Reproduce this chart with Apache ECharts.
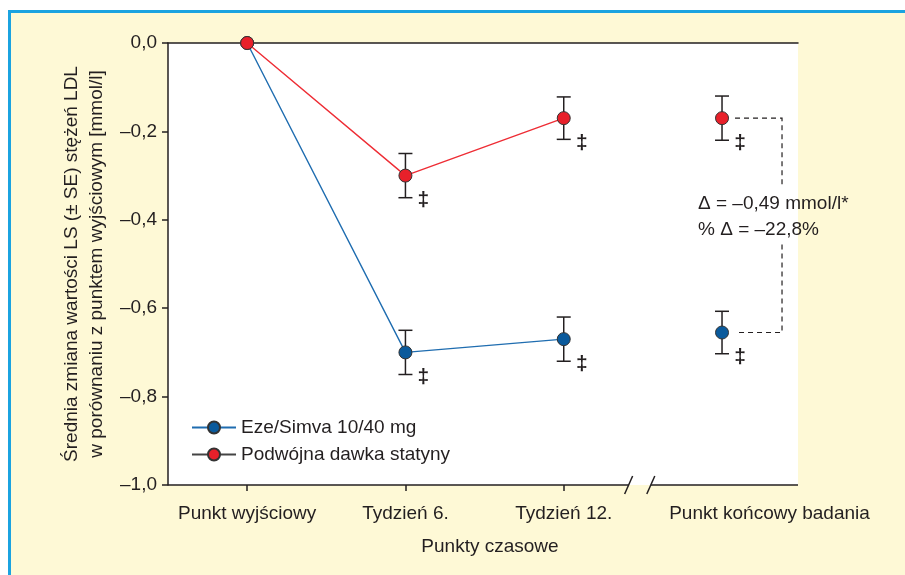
<!DOCTYPE html>
<html>
<head>
<meta charset="utf-8">
<script src="https://cdn.jsdelivr.net/npm/echarts@6/dist/echarts.min.js"></script>
<style>
  html, body { margin: 0; padding: 0; background: #fff; }
  #frame { position: absolute; left: 8px; top: 10px; width: 897px; height: 565px;
    background: #fef9d6; border-top: 3px solid #1ba3e0; border-left: 3px solid #1ba3e0; box-sizing: border-box; }
  #chart { position: absolute; left: 0; top: 0; width: 905px; height: 575px; }
</style>
</head>
<body>
<div id="frame"></div>
<div id="chart"></div>
<script>
const categories = ['Punkt wyjściowy', 'Tydzień 6.', 'Tydzień 12.', 'Punkt końcowy badania'];
const timePos = [1, 2, 3, 4];
const labelPos = [1, 2, 3, 4.3];
const ezeMean = [0, -0.70, -0.67, -0.655];
const ezeSE = [0, 0.05, 0.05, 0.048];
const statMean = [0, -0.30, -0.17, -0.17];
const statSE = [0, 0.05, 0.048, 0.05];
const yTicks = [0, -0.2, -0.4, -0.6, -0.8, -1.0];
const breakAt = [3.41, 3.55];
const deltaText = ['Δ = –0,49 mmol/l*', '% Δ = –22,8%'];

const FONT = '"Liberation Sans Narrow", "Liberation Sans", Arial, sans-serif';
const INK = '#231f20';
const X_MIN = 0.5, X_MAX = 4.48;

const fmtY = v => (v === 0 ? '0,0' : '–' + Math.abs(v).toFixed(1).replace('.', ','));

// connected part (first three time points) and the separate end point
const linePart = (mean) => timePos.slice(0, 3).map((x, i) => [x, mean[i]]);
const endPart = (mean) => [[timePos[3], mean[3]]];
const errRows = (mean, se) => timePos.map((x, i) => [x, mean[i] - se[i], mean[i] + se[i], mean[i]]).filter((r, i) => se[i] > 0);

function renderErr(params, api) {
  const x = api.value(0);
  const lo = api.coord([x, api.value(1)]);
  const hi = api.coord([x, api.value(2)]);
  const mid = api.coord([x, api.value(3)]);
  const cap = 7;
  const st = { stroke: INK, lineWidth: 1.5 };
  return {
    type: 'group',
    children: [
      { type: 'line', shape: { x1: lo[0], y1: lo[1], x2: hi[0], y2: hi[1] }, style: st },
      { type: 'line', shape: { x1: lo[0] - cap, y1: lo[1], x2: lo[0] + cap, y2: lo[1] }, style: st },
      { type: 'line', shape: { x1: hi[0] - cap, y1: hi[1], x2: hi[0] + cap, y2: hi[1] }, style: st },
      { type: 'text', x: mid[0] + 18, y: mid[1] + 25,
        style: { text: '‡', fill: INK, font: 'bold 21px ' + FONT, align: 'center', verticalAlign: 'middle' } }
    ]
  };
}

// bottom axis line with the break marks, plus the dashed delta bracket
function renderFrame(params, api) {
  const st = { stroke: INK, lineWidth: 1.5 };
  const a = api.coord([X_MIN, -1]);
  const b1 = api.coord([breakAt[0], -1]);
  const b2 = api.coord([breakAt[1], -1]);
  const e = api.coord([X_MAX, -1]);
  const slash = p => ({ type: 'line', shape: { x1: p[0] - 4, y1: p[1] + 9, x2: p[0] + 4, y2: p[1] - 9 }, style: st });

  const top = api.coord([timePos[3], statMean[3]]);
  const bot = api.coord([timePos[3], ezeMean[3]]);
  const bx = top[0] + 60;
  const sx = top[0] + 13;
  const gapTop = top[1] + 69, gapBot = bot[1] - 88;
  const ds = { stroke: INK, lineWidth: 1.2, lineDash: [5, 4] };
  return {
    type: 'group',
    children: [
      { type: 'line', shape: { x1: a[0], y1: a[1], x2: b1[0], y2: b1[1] }, style: st },
      { type: 'line', shape: { x1: b2[0], y1: b2[1], x2: e[0], y2: e[1] }, style: st },
      slash(b1), slash(b2),
      { type: 'polyline', shape: { points: [[sx, top[1]], [bx, top[1]], [bx, gapTop]] }, style: Object.assign({ fill: null }, ds) },
      { type: 'polyline', shape: { points: [[bx, gapBot], [bx, bot[1]], [sx, bot[1]]] }, style: Object.assign({ fill: null }, ds) },
      { type: 'text', x: top[0] - 24, y: top[1] + 86,
        style: { text: deltaText[0], fill: INK, font: '19px ' + FONT, verticalAlign: 'middle' } },
      { type: 'text', x: top[0] - 24, y: top[1] + 112,
        style: { text: deltaText[1], fill: INK, font: '19px ' + FONT, verticalAlign: 'middle' } }
    ]
  };
}

const chart = echarts.init(document.getElementById('chart'));
const mk = (color) => ({ color: color, borderColor: '#333', borderWidth: 1, opacity: 1 });

chart.setOption({
  backgroundColor: 'transparent',
  animation: false,
  textStyle: { fontFamily: FONT },
  grid: { left: 168, top: 43, right: 107, bottom: 90, show: true, backgroundColor: '#fff', borderWidth: 0 },
  legend: {
    left: 186, top: 413, orient: 'vertical',
    itemWidth: 44, itemHeight: 15, itemGap: 8,
    textStyle: { fontSize: 19, color: INK, fontFamily: FONT },
    data: [
      { name: 'Eze/Simva 10/40 mg' },
      { name: 'Podwójna dawka statyny', lineStyle: { color: '#444' } }
    ]
  },
  xAxis: [{
    type: 'value', min: X_MIN, max: X_MAX, position: 'bottom',
    name: 'Punkty czasowe', nameLocation: 'middle', nameGap: 52,
    nameTextStyle: { fontSize: 19, color: INK, fontFamily: FONT, padding: [0, 0, 0, 14] },
    splitLine: { show: false },
    axisLine: { show: false, onZero: false },
    axisTick: { show: true, length: 6, lineStyle: { color: INK, width: 1.5 }, customValues: timePos.slice(0, 3) },
    axisLabel: {
      margin: 19, fontSize: 19, color: INK, fontFamily: FONT,
      customValues: labelPos,
      formatter: v => categories[labelPos.indexOf(v)] || ''
    }
  }, {
    type: 'value', min: X_MIN, max: X_MAX, position: 'top',
    splitLine: { show: false }, axisTick: { show: false }, axisLabel: { show: false },
    axisLine: { show: true, onZero: false, lineStyle: { color: INK, width: 1.5 } }
  }],
  yAxis: {
    type: 'value', min: -1, max: 0, interval: 0.2,
    name: 'Średnia zmiana wartości LS (± SE) stężeń LDL\nw porównaniu z punktem wyjściowym [mmol/l]',
    nameLocation: 'middle', nameGap: 58,
    nameTextStyle: { fontSize: 19, color: INK, lineHeight: 25, fontFamily: FONT },
    splitLine: { show: false },
    axisLine: { show: true, onZero: false, lineStyle: { color: INK, width: 1.5 } },
    axisTick: { show: true, length: 6, lineStyle: { color: INK, width: 1.5 } },
    axisLabel: { margin: 11, fontSize: 19, color: INK, fontFamily: FONT, formatter: fmtY }
  },
  series: [
    { type: 'custom', name: 'frame', silent: true, z: 1, renderItem: renderFrame, data: [[0, 0]] },
    { type: 'custom', name: 'errEze', silent: true, z: 2, renderItem: renderErr, data: errRows(ezeMean, ezeSE) },
    { type: 'custom', name: 'errStat', silent: true, z: 2, renderItem: renderErr, data: errRows(statMean, statSE) },
    { type: 'line', name: 'Eze/Simva 10/40 mg', z: 3, data: linePart(ezeMean), symbol: 'circle', symbolSize: 13,
      lineStyle: { color: '#1f6db0', width: 1.4 }, itemStyle: mk('#0a5a9c') },
    { type: 'scatter', name: 'Eze/Simva 10/40 mg', z: 3, data: endPart(ezeMean), symbolSize: 13, itemStyle: mk('#0a5a9c') },
    { type: 'line', name: 'Podwójna dawka statyny', z: 4, data: linePart(statMean), symbol: 'circle', symbolSize: 13,
      lineStyle: { color: '#ee2d35', width: 1.4 }, itemStyle: mk('#e8202a') },
    { type: 'scatter', name: 'Podwójna dawka statyny', z: 4, data: endPart(statMean), symbolSize: 13, itemStyle: mk('#e8202a') }
  ]
});
</script>
</body>
</html>
